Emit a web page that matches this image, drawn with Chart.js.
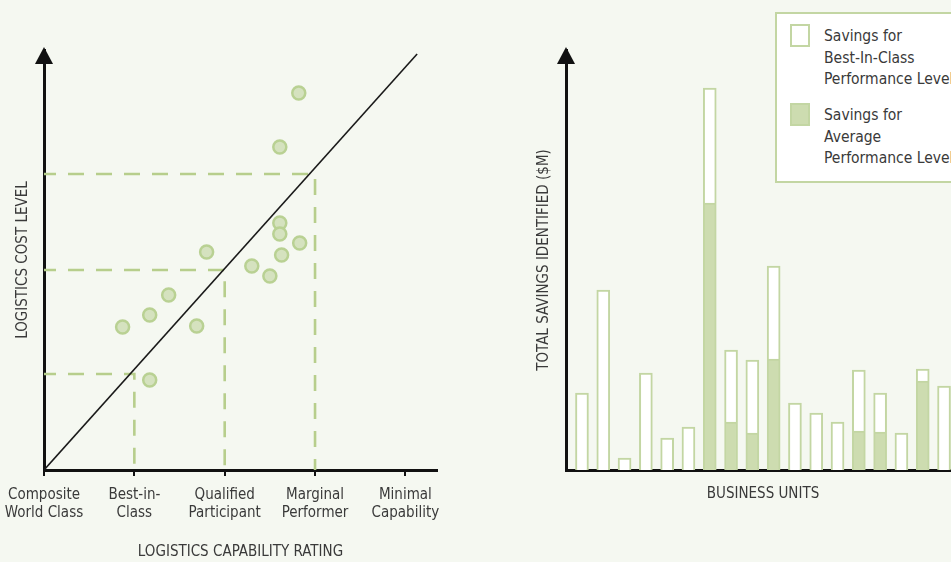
<!DOCTYPE html>
<html>
<head>
<meta charset="utf-8">
<script src="https://cdn.jsdelivr.net/npm/chart.js@4/dist/chart.umd.min.js"></script>
<style>
    html, body { margin: 0; padding: 0; width: 951px; height: 562px; overflow: hidden; background: #f5f8f1; }
    #leftChart { position: absolute; left: 0; top: 0; }
    #rightChart { position: absolute; left: 520px; top: 0; }
    #legend {
        position: absolute; left: 775px; top: 12px; width: 200px; height: 167px;
        background: #fff; border: 2px solid #c3d6a3;
        font-family: "Liberation Sans Narrow", "DejaVu Sans Condensed", sans-serif;
        font-size: 15.5px; line-height: 21.5px; color: #3a3a3a;
    }
    #legend .sw { position: absolute; left: 13px; width: 16px; height: 19px; border: 2px solid #c3d6a3; }
    #legend .txt { position: absolute; left: 47px; white-space: nowrap; }
</style>
</head>
<body>
<canvas id="leftChart" width="480" height="562"></canvas>
<canvas id="rightChart" width="450" height="562"></canvas>
<div id="legend"></div>

<script>
// ---- left panel: capability vs cost ----
const capTicks = [0, 1, 2, 3, 4];
const capLabels = [["Composite", "World Class"], ["Best-in-", "Class"], ["Qualified", "Participant"], ["Marginal", "Performer"], ["Minimal", "Capability"]];
const unitCapability = [2.82, 2.61, 2.61, 2.61, 2.83, 2.63, 2.30, 2.50, 1.80, 1.38, 1.17, 0.87, 1.69, 1.17];
const unitCost       = [3.77, 3.23, 2.47, 2.36, 2.27, 2.15, 2.04, 1.94, 2.18, 1.75, 1.55, 1.43, 1.44, 0.90];
const guideCapability = [1, 2, 3];
const guideCost = [0.96, 2.0, 2.96];
const trendX = [0, 4.13];
const trendY = [0, 4.16];

// ---- right panel: savings per business unit ----
const bestInClassTotal = [7.7, 18.0, 1.2, 9.7, 3.2, 4.3, 38.2, 12.0, 11.0, 20.4, 6.7, 5.7, 4.8, 10.0, 7.7, 3.7, 10.1, 8.4];
const averageLevel     = [null, null, null, null, null, null, 26.7, 4.8, 3.7, 11.1, null, null, null, 3.9, 3.8, null, 8.9, null];
const legendLines = [["Savings for", "Best-In-Class", "Performance Level"], ["Savings for", "Average", "Performance Level"]];

const FONT = '"Liberation Sans Narrow", "DejaVu Sans Condensed", sans-serif';
const TEXT = '#3a3a3a';
const GREEN_LINE = '#b7ce8c';
const BAR_LINE = '#c3d6a3';
Chart.defaults.font.family = FONT;
Chart.defaults.color = TEXT;

// arrow head on top of the y axis
const axisArrow = {
    id: 'axisArrow',
    afterDraw(chart) {
        const ctx = chart.ctx;
        const a = chart.chartArea;
        ctx.save();
        ctx.fillStyle = '#111';
        ctx.beginPath();
        ctx.moveTo(a.left, a.top - 3);
        ctx.lineTo(a.left - 9, a.top + 14);
        ctx.lineTo(a.left + 9, a.top + 14);
        ctx.closePath();
        ctx.fill();
        ctx.restore();
    }
};

const guideSets = guideCapability.map((gx, i) => ({
    type: 'line',
    data: [{x: 0, y: guideCost[i]}, {x: gx, y: guideCost[i]}, {x: gx, y: 0}],
    borderColor: GREEN_LINE,
    borderWidth: 2.6,
    borderDash: [16, 12],
    borderDashOffset: 4,
    pointRadius: 0,
    fill: false
}));

new Chart(document.getElementById('leftChart'), {
    type: 'scatter',
    data: {
        datasets: [
            {
                data: unitCapability.map((x, i) => ({x: x, y: unitCost[i]})),
                backgroundColor: '#d5e2bf',
                borderColor: '#b9d193',
                borderWidth: 2.5,
                pointRadius: 6.5
            },
            {
                type: 'line',
                data: trendX.map((x, i) => ({x: x, y: trendY[i]})),
                borderColor: '#1a1a1a',
                borderWidth: 1.6,
                pointRadius: 0,
                fill: false
            },
            ...guideSets
        ]
    },
    options: {
        responsive: false,
        animation: false,
        layout: { padding: { top: 50, right: 43, left: 0, bottom: 0 } },
        plugins: { legend: { display: false }, tooltip: { enabled: false } },
        scales: {
            x: {
                type: 'linear',
                min: 0,
                max: 4.35,
                afterBuildTicks: s => { s.ticks = capTicks.map(v => ({value: v})); },
                afterFit: s => { s.height = 92; s.paddingLeft = 0; s.paddingRight = 0; },
                ticks: {
                    callback: (v, i) => capLabels[i],
                    font: { size: 15 },
                    color: TEXT,
                    padding: 10,
                    maxRotation: 0,
                    autoSkip: false
                },
                grid: { drawOnChartArea: false, drawTicks: true, tickLength: 6, color: '#111', lineWidth: 2 },
                border: { color: '#111', width: 3 },
                title: { display: true, text: 'LOGISTICS CAPABILITY RATING', font: { size: 15 }, color: TEXT, padding: { top: 0, bottom: 1 } }
            },
            y: {
                min: 0,
                max: 4.2,
                afterFit: s => { s.width = 44; },
                ticks: { display: false },
                grid: { display: false },
                border: { color: '#111', width: 3 },
                title: { display: true, text: 'LOGISTICS COST LEVEL', font: { size: 15 }, color: TEXT, padding: { top: 14, bottom: 0 } }
            }
        }
    },
    plugins: [axisArrow]
});

new Chart(document.getElementById('rightChart'), {
    type: 'bar',
    data: {
        datasets: [
            {
                label: legendLines[1].join(' '),
                data: averageLevel.map((v, i) => ({x: i, y: v})),
                backgroundColor: '#cddcb0',
                borderColor: BAR_LINE,
                borderWidth: 2,
                barThickness: 13
            },
            {
                label: legendLines[0].join(' '),
                data: bestInClassTotal.map((v, i) => ({x: i, y: v - (averageLevel[i] || 0)})),
                backgroundColor: '#ffffff',
                borderColor: BAR_LINE,
                borderWidth: 2,
                barThickness: 13
            }
        ]
    },
    options: {
        responsive: false,
        animation: false,
        layout: { padding: { top: 50, right: 10, left: 0, bottom: 59 } },
        plugins: { legend: { display: false }, tooltip: { enabled: false } },
        scales: {
            x: {
                type: 'linear',
                offset: false,
                stacked: true,
                min: -0.75,
                max: 17.75,
                afterFit: s => { s.height = 33; },
                ticks: { display: false },
                grid: { display: false, offset: false },
                border: { color: '#111', width: 3 },
                title: { display: true, text: 'BUSINESS UNITS', font: { size: 15 }, color: TEXT, padding: { top: 0, bottom: 0 } }
            },
            y: {
                stacked: true,
                min: 0,
                max: 42,
                afterFit: s => { s.width = 46; },
                ticks: { display: false },
                grid: { display: false },
                border: { color: '#111', width: 3 },
                title: { display: true, text: 'TOTAL SAVINGS IDENTIFIED ($M)', font: { size: 15 }, color: TEXT, padding: { top: 15, bottom: 0 } }
            }
        }
    },
    plugins: [axisArrow]
});

// legend box (partly cut by the right edge, like the original)
const legend = document.getElementById('legend');
const swatchFill = ['#ffffff', '#cddcb0'];
legendLines.forEach((lines, i) => {
    const top = 10 + i * 79;
    const sw = document.createElement('div');
    sw.className = 'sw';
    sw.style.top = top + 'px';
    sw.style.background = swatchFill[i];
    legend.appendChild(sw);
    const txt = document.createElement('div');
    txt.className = 'txt';
    txt.style.top = (top + 2) + 'px';
    txt.innerHTML = lines.join('<br>');
    legend.appendChild(txt);
});
</script>
</body>
</html>
